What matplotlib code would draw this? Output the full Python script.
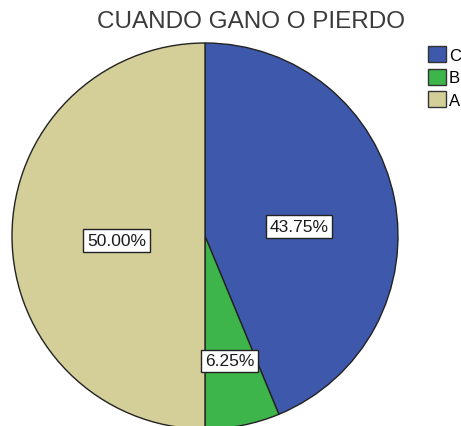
import numpy as np
import matplotlib.pyplot as plt

plt.rcParams['font.family'] = ['Liberation Sans', 'DejaVu Sans']

# datos
categorias = ['C', 'B', 'A']
porcentajes = [43.75, 6.25, 50.00]
colores = ['#3E58AC', '#3DB54A', '#D4CE99']
titulo = 'CUANDO GANO O PIERDO'

fig = plt.figure(figsize=(4.61, 4.27), dpi=100)
ax = fig.add_axes([0, 0, 1, 1])

wedges, textos, autotextos = ax.pie(
    porcentajes, colors=colores, startangle=90, counterclock=False,
    autopct='%.2f%%', pctdistance=0.5,
    wedgeprops=dict(edgecolor='#222222', linewidth=1.0),
    textprops=dict(fontsize=12.5, color='#1a1a1a'))

# distancia y angulo extra de cada etiqueta (como SPSS)
radios = [0.49, 0.66, 0.46]
giro = [-5.5, 0.0, 3.0]
for w, t, r, g in zip(wedges, autotextos, radios, giro):
    ang = np.deg2rad((w.theta1 + w.theta2) / 2 + g)
    t.set_position((r * np.cos(ang), r * np.sin(ang)))
    t.set_bbox(dict(boxstyle='square,pad=0.22', facecolor='white',
                    edgecolor='#222222', linewidth=1.0))

# centro en (205, 237) px, radio 193 px
ax.set_xlim(-205 / 193, (461 - 205) / 193)
ax.set_ylim(-(427 - 237) / 193, 237 / 193)
ax.set_aspect('auto')
ax.axis('off')

fig.text(251 / 461, 1 - 22 / 427, titulo, ha='center', va='center',
         fontsize=17.5, color='#3a3a3a')

leg = fig.legend(wedges, categorias, loc='upper left',
                 bbox_to_anchor=(428 / 461, 1 - 47 / 427),
                 frameon=False, fontsize=12, borderpad=0, borderaxespad=0,
                 handlelength=1.1, handleheight=1.1, handletextpad=0.15,
                 labelspacing=0.35)
for p in leg.get_patches():
    p.set_edgecolor('#333333')
    p.set_linewidth(1.0)

plt.savefig('out.png', dpi=100)
